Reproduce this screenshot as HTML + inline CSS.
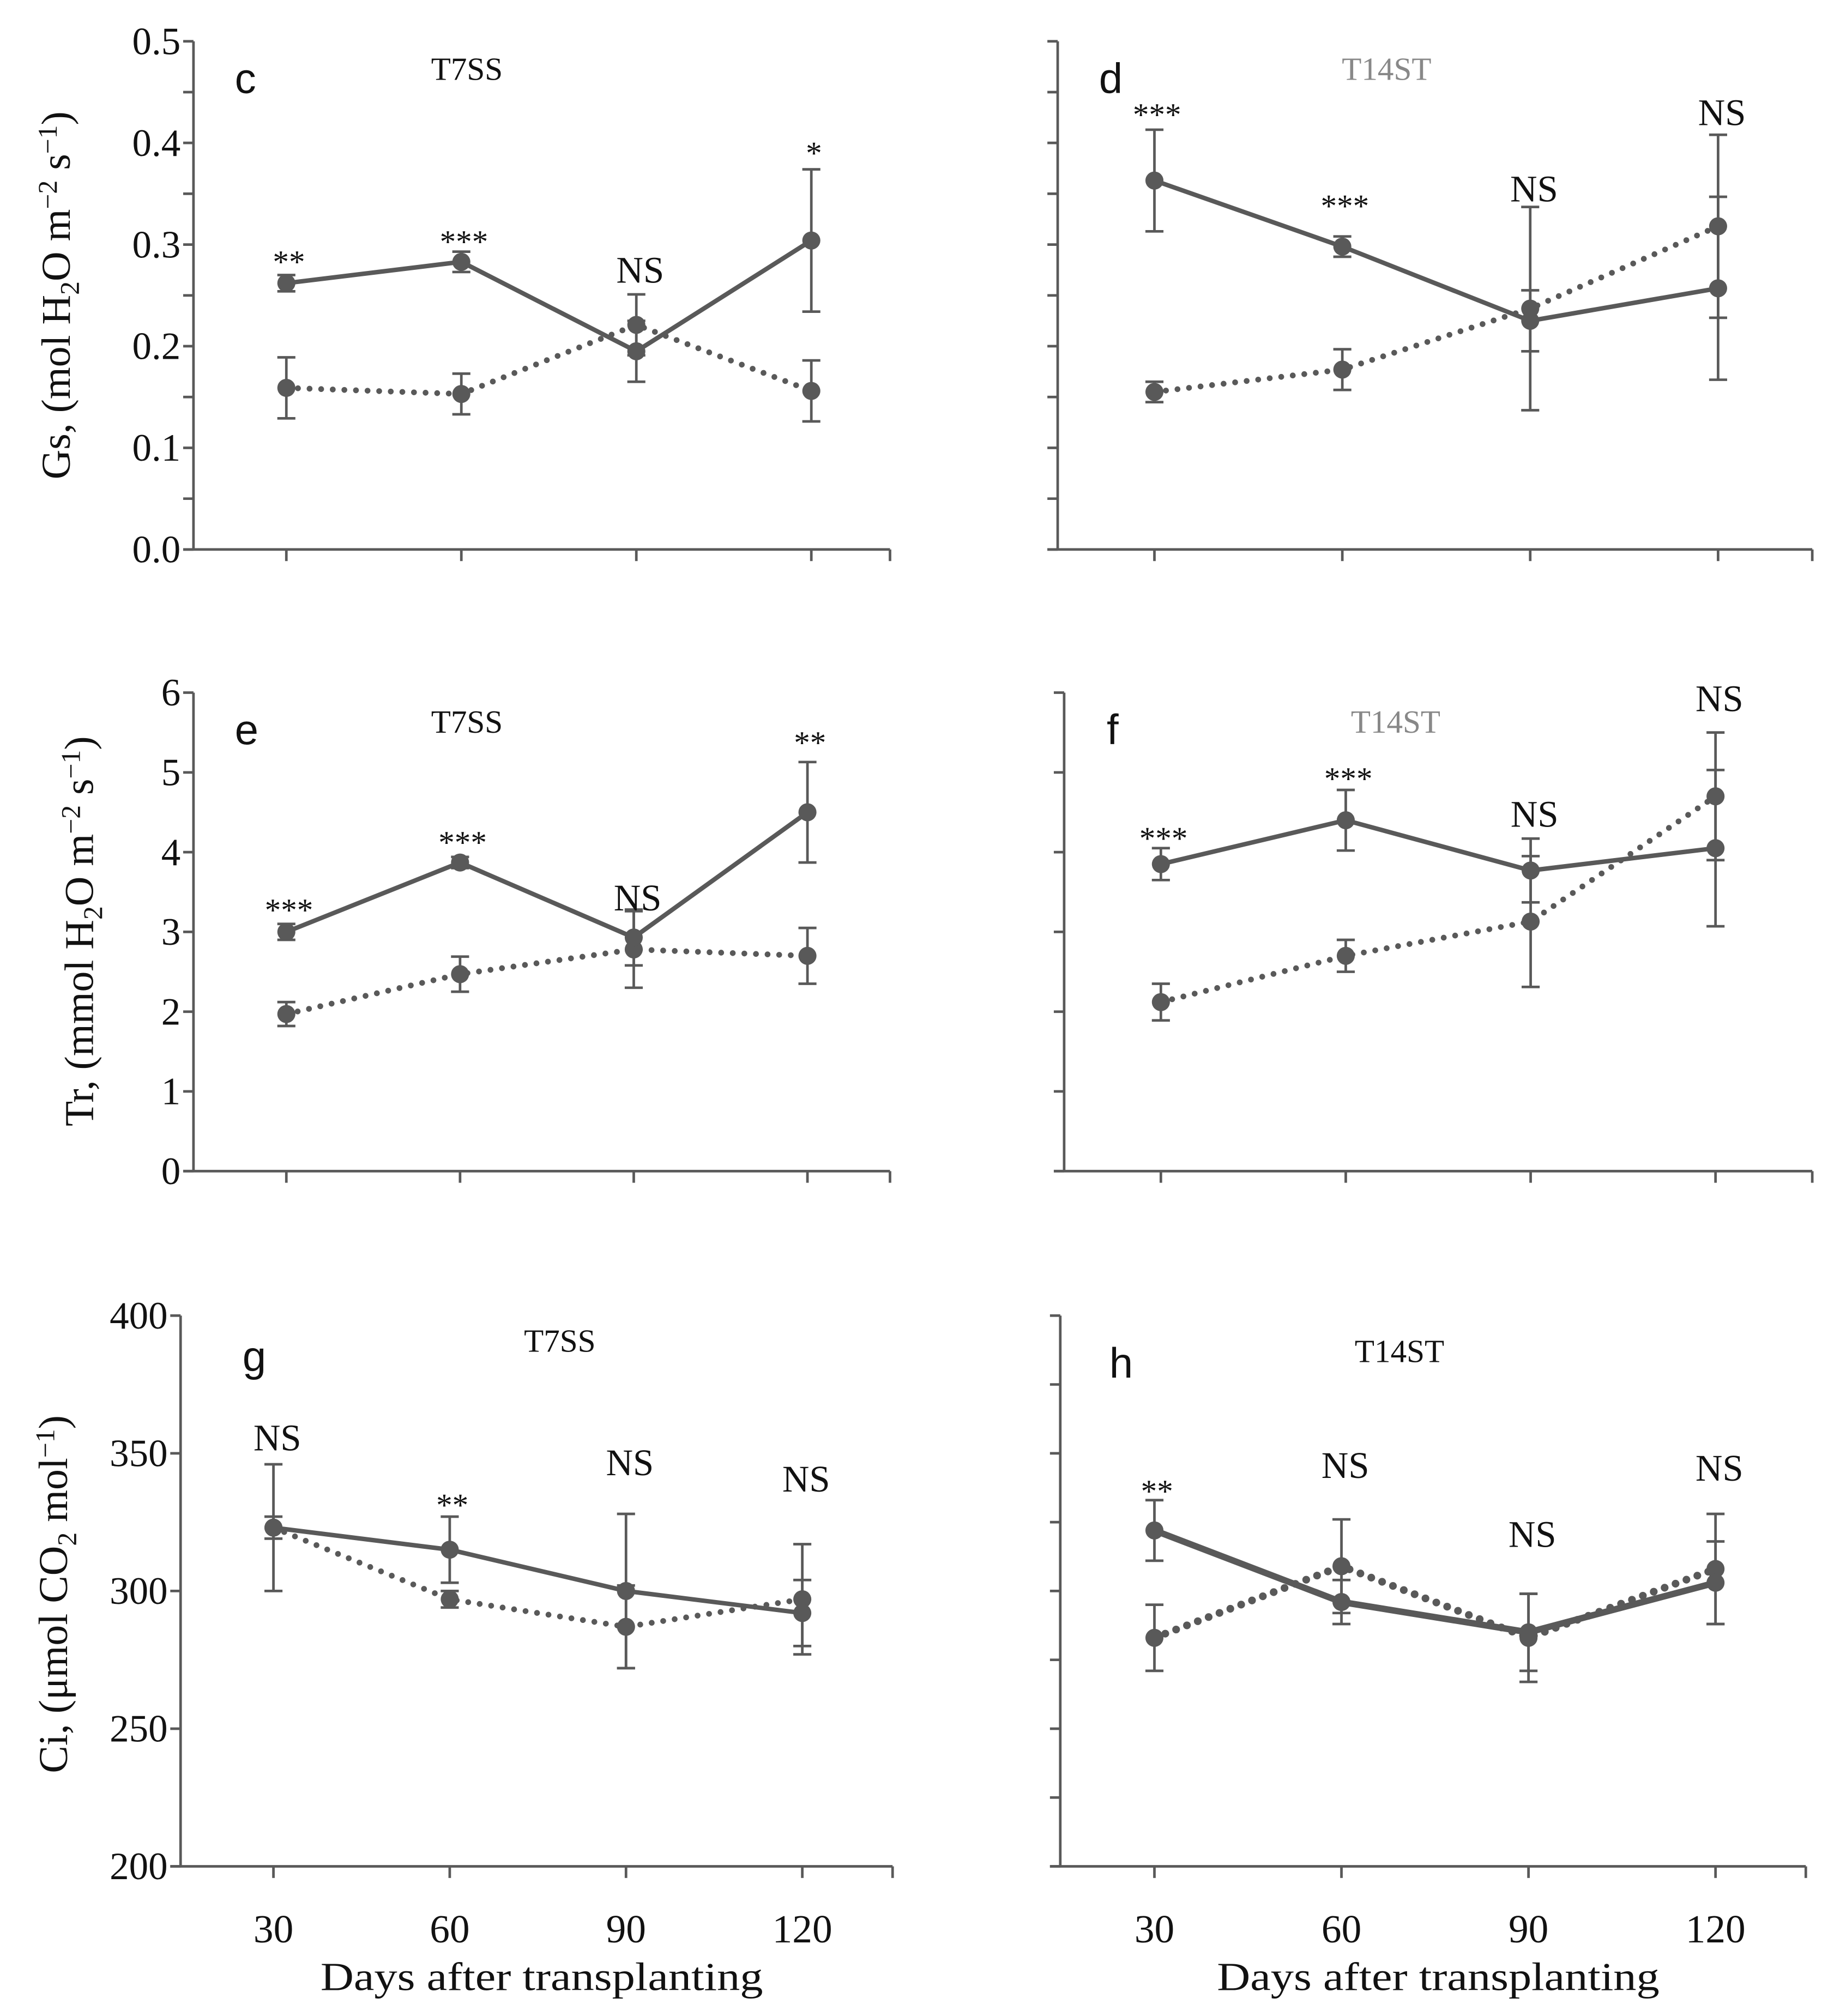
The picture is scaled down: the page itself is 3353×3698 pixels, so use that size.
<!DOCTYPE html>
<html><head><meta charset="utf-8"><style>
html,body{margin:0;padding:0;background:#fff}
svg{display:block}
text{font-family:"Liberation Serif",serif;fill:#111}
</style></head><body>
<svg id="fig" width="3353" height="3698" viewBox="0 0 1417.2 1563" xmlns="http://www.w3.org/2000/svg"></svg>
<script>
const days = [30, 60, 90, 120];
// panel c (Gs, T7SS)
const cSolid = [0.262, 0.283, 0.195, 0.304];
const cSolidErr = [0.008, 0.010, 0.030, 0.070];
const cDotted = [0.159, 0.153, 0.221, 0.156];
const cDottedErr = [0.030, 0.020, 0.030, 0.030];
const cSig = ["**", "***", "NS", "*"];
const cSigY = [0.285, 0.305, 0.265, 0.392];
// panel d (Gs, T14ST)
const dSolid = [0.363, 0.298, 0.225, 0.257];
const dSolidErr = [0.050, 0.010, 0.030, 0.090];
const dDotted = [0.155, 0.177, 0.237, 0.318];
const dDottedErr = [0.010, 0.020, 0.100, 0.090];
const dSig = ["***", "***", "NS", "NS"];
const dSigY = [0.43, 0.34, 0.345, 0.42];
// panel e (Tr, T7SS)
const eSolid = [3.0, 3.87, 2.93, 4.5];
const eSolidErr = [0.1, 0.07, 0.35, 0.63];
const eDotted = [1.97, 2.47, 2.78, 2.7];
const eDottedErr = [0.15, 0.22, 0.48, 0.35];
const eSig = ["***", "***", "NS", "**"];
const eSigY = [3.3, 4.15, 3.3, 5.4];
// panel f (Tr, T14ST)
const fSolid = [3.85, 4.4, 3.77, 4.05];
const fSolidErr = [0.2, 0.38, 0.4, 0.98];
const fDotted = [2.12, 2.7, 3.13, 4.7];
const fDottedErr = [0.23, 0.2, 0.82, 0.8];
const fSig = ["***", "***", "NS", "NS"];
const fSigY = [4.2, 4.95, 4.35, 5.8];
// panel g (Ci, T7SS)
const gSolid = [323, 315, 300, 292];
const gSolidErr = [23, 12, 28, 12];
const gDotted = [323, 297, 287, 297];
const gDottedErr = [4, 3, 15, 20];
const gSig = ["NS", "**", "NS", "NS"];
const gSigY = [352, 332, 343, 337];
// panel h (Ci, T14ST)
const hSolid = [322, 296, 285, 303];
const hSolidErr = [11, 8, 14, 15];
const hDotted = [283, 309, 283, 308];
const hDottedErr = [12, 17, 16, 20];
const hSig = ["**", "NS", "NS", "NS"];
const hSigY = [337, 342, 317, 341];
// tick labels
const gsTicks = ["0.0","0.1","0.2","0.3","0.4","0.5"];
const trTicks = ["0","1","2","3","4","5","6"];
const ciTicks = ["200","250","300","350","400"];
const xTicks = ["30","60","90","120"];

const NS = "http://www.w3.org/2000/svg";
const svg = document.getElementById('fig');
const C = "#595959";
function mk(tag, attrs, parent){const e=document.createElementNS(NS,tag);for(const k in attrs)e.setAttribute(k,attrs[k]);(parent||svg).appendChild(e);return e;}

const panels = [
 {id:'c',ax:150,top:32,bot:426,right:690,x30:222,x120:629,min:0,max:0.5,minor:0.05,ticks:gsTicks,tickStep:0.1,letter:'c',lx:182,ly:72,title:'T7SS',tx:362,ty:62,tc:'#111',s:cSolid,se:cSolidErr,d:cDotted,de:cDottedErr,sig:cSig,sigY:cSigY,lab:true,lw:3.5},
 {id:'d',ax:820,top:32,bot:426,right:1405,x30:895,x120:1332,min:0,max:0.5,minor:0.05,ticks:gsTicks,tickStep:0.1,letter:'d',lx:852,ly:72,title:'T14ST',tx:1075,ty:62,tc:'#888',s:dSolid,se:dSolidErr,d:dDotted,de:dDottedErr,sig:dSig,sigY:dSigY,lab:false,lw:3.5},
 {id:'e',ax:150,top:537,bot:908,right:690,x30:222,x120:626,min:0,max:6,minor:1,ticks:trTicks,tickStep:1,letter:'e',lx:182,ly:577,title:'T7SS',tx:362,ty:568,tc:'#111',s:eSolid,se:eSolidErr,d:eDotted,de:eDottedErr,sig:eSig,sigY:eSigY,lab:true,lw:3.5},
 {id:'f',ax:825,top:537,bot:908,right:1405,x30:900,x120:1330,min:0,max:6,minor:1,ticks:trTicks,tickStep:1,letter:'f',lx:858,ly:577,title:'T14ST',tx:1082,ty:568,tc:'#888',s:fSolid,se:fSolidErr,d:fDotted,de:fDottedErr,sig:fSig,sigY:fSigY,lab:false,lw:3.5},
 {id:'g',ax:140,top:1020,bot:1447,right:692,x30:212,x120:622,min:200,max:400,minor:50,ticks:ciTicks,tickStep:50,letter:'g',lx:188,ly:1063,title:'T7SS',tx:434,ty:1048,tc:'#111',s:gSolid,se:gSolidErr,d:gDotted,de:gDottedErr,sig:gSig,sigY:gSigY,lab:true,lw:3.5},
 {id:'h',ax:822,top:1020,bot:1447,right:1400,x30:895,x120:1330,min:200,max:400,minor:25,ticks:ciTicks,tickStep:50,letter:'h',lx:860,ly:1068,title:'T14ST',tx:1085,ty:1056,tc:'#111',s:hSolid,se:hSolidErr,d:hDotted,de:hDottedErr,sig:hSig,sigY:hSigY,lab:false,lw:5}
];

panels.forEach(p=>{
  const g = mk('g',{});
  
  
  const y = v => p.bot - (v-p.min)/(p.max-p.min)*(p.bot-p.top);
  const x = d => p.x30 + (d-30)/90*(p.x120-p.x30);
  const ya = mk('line',{x1:p.ax,y1:p.top,x2:p.ax,y2:p.bot,stroke:C,'stroke-width':2},g);
  
  
  const xa = mk('line',{x1:p.ax-8,y1:p.bot,x2:p.right,y2:p.bot,stroke:C,'stroke-width':2},g);
  
  
  for(let v=p.min; v<=p.max+1e-9; v+=p.minor){
    mk('line',{x1:p.ax-8,y1:y(v),x2:p.ax,y2:y(v),stroke:C,'stroke-width':2},g);
  }
  mk('line',{x1:p.right,y1:p.bot,x2:p.right,y2:p.bot+9,stroke:C,'stroke-width':2},g);
  days.forEach(d=>mk('line',{x1:x(d),y1:p.bot,x2:x(d),y2:p.bot+9,stroke:C,'stroke-width':2},g));
  if(p.lab){
    p.ticks.forEach((t,i)=>{
      const tl = mk('text',{x:p.ax-10,y:y(p.min+i*p.tickStep)+10,'text-anchor':'end','font-size':30},g);
      tl.textContent=t;
      
      
    });
  }
  const lt = mk('text',{x:p.lx,y:p.ly,'font-size':33,style:'font-family:"Liberation Sans",sans-serif'},g);
  lt.textContent=p.letter;
  
  
  const tt = mk('text',{x:p.tx,y:p.ty,'text-anchor':'middle','font-size':25,style:'fill:'+p.tc},g);
  tt.textContent=p.title;
  
  
  function errs(vals, e, name){
    vals.forEach((v,i)=>{
      const X=x(days[i]);
      const eb = mk('path',{d:`M${X},${y(v-e[i])}V${y(v+e[i])}M${X-7},${y(v-e[i])}H${X+7}M${X-7},${y(v+e[i])}H${X+7}`,stroke:C,'stroke-width':2,fill:'none'},g);
      
      
    });
  }
  errs(p.d,p.de,'dotted');
  errs(p.s,p.se,'solid');
  const dl = mk('polyline',{points:p.d.map((v,i)=>x(days[i])+','+y(v)).join(' '),fill:'none',stroke:C,'stroke-width':p.lw+1,'stroke-dasharray':'0 9','stroke-linecap':'round'},g);
  
  
  const sl = mk('polyline',{points:p.s.map((v,i)=>x(days[i])+','+y(v)).join(' '),fill:'none',stroke:C,'stroke-width':p.lw},g);
  
  
  p.d.forEach((v,i)=>{const m=mk('circle',{cx:x(days[i]),cy:y(v),r:7,fill:C},g);
    
    });
  p.s.forEach((v,i)=>{const m=mk('circle',{cx:x(days[i]),cy:y(v),r:7,fill:C},g);
    
    });
  p.sig.forEach((s,i)=>{
    const isNS = s==='NS';
    const t = mk('text',{x:x(days[i])+(isNS?3:2),y:y(p.sigY[i])+(isNS?2:10),'text-anchor':'middle','font-size':isNS?29:25},g);
    t.textContent=s;
    
    
  });
  if(p.id==='g'||p.id==='h'){
    xTicks.forEach((t,i)=>{
      const xl = mk('text',{x:x(days[i]),y:1506,'text-anchor':'middle','font-size':31},g);
      xl.textContent=t;
      
      
    });
    const xt = mk('text',{x:(p.ax+p.right)/2+4,y:1543,'text-anchor':'middle','font-size':31,textLength:343,lengthAdjust:'spacingAndGlyphs'},g);
    xt.textContent='Days after transplanting';
    
    
  }
});
function ylab(cx,cy,html,name){
  const t = mk('text',{transform:`translate(${cx},${cy}) rotate(-90)`,'text-anchor':'middle','font-size':32});
  t.innerHTML = html;
  
  
}
ylab(54,229,'Gs, (mol H<tspan font-size="21" dy="7">2</tspan><tspan dy="-7">O m</tspan><tspan font-size="21" dy="-10">−2</tspan><tspan dy="10"> s</tspan><tspan font-size="21" dy="-10">−1</tspan><tspan dy="10">)</tspan>','gs-y-axis-title');
ylab(72,722,'Tr, (mmol H<tspan font-size="21" dy="7">2</tspan><tspan dy="-7">O m</tspan><tspan font-size="21" dy="-10">−2</tspan><tspan dy="10"> s</tspan><tspan font-size="21" dy="-10">−1</tspan><tspan dy="10">)</tspan>','tr-y-axis-title');
ylab(52,1236,'Ci, (μmol CO<tspan font-size="21" dy="7">2</tspan><tspan dy="-7"> mol</tspan><tspan font-size="21" dy="-10">−1</tspan><tspan dy="10">)</tspan>','ci-y-axis-title');
</script>
</body></html>
